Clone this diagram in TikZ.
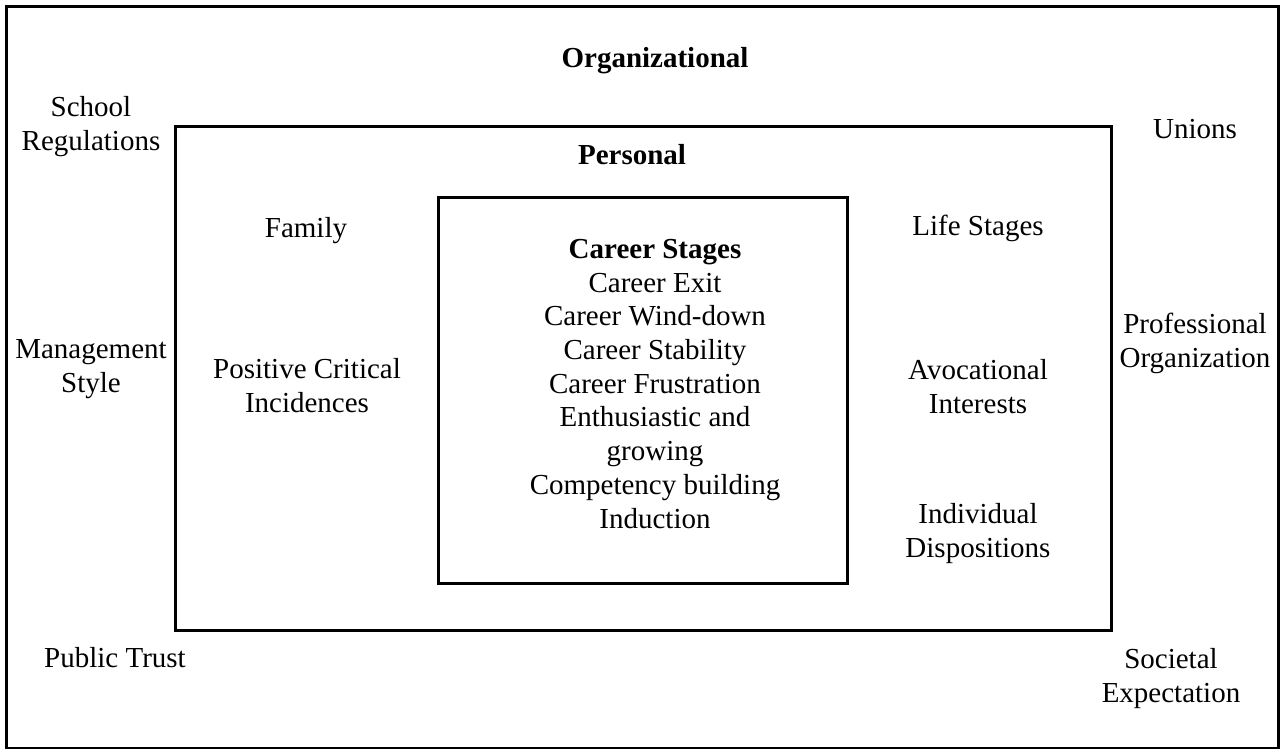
\documentclass[tikz,border=0pt]{standalone}
\usepackage{fontspec}
\setmainfont{Liberation Serif}
\begin{document}
\begin{tikzpicture}[x=0.5pt, y=-0.5pt,
    every node/.style={font=\fontsize{14.5}{16.85}\selectfont, align=center, anchor=base, inner sep=0pt},
    heading/.style={font=\fontsize{14.5}{16.85}\selectfont\bfseries},
    frame/.style={draw, line width=1.5pt}]
    \useasboundingbox (0,0) rectangle (1285,749);
    \clip (0,0) rectangle (1285,749);

    % Nested frames
    \draw[frame] (6,7) rectangle (1278,748);
    \draw[frame] (175,127) rectangle (1111,630);
    \draw[frame] (438,197) rectangle (847,583);

    % Organizational level (base = last line)
    \node[heading] (org) at (655,68) {Organizational};
    \node (school) at (91,150) {School\\Regulations};
    \node (unions) at (1195,139) {Unions};
    \node (mgmt) at (91,392) {Management\\Style};
    \node (prof) at (1195,367) {Professional\\Organization};
    \node (trust) at (115,667) {Public Trust};
    \node (society) at (1171,702) {Societal\\Expectation};

    % Personal level
    \node[heading] (pers) at (632,164) {Personal};
    \node (family) at (306,237) {Family};
    \node (life) at (978,235) {Life Stages};
    \node (incid) at (307,412) {Positive Critical\\Incidences};
    \node (avoc) at (978,413) {Avocational\\Interests};
    \node (disp) at (978,557) {Individual\\Dispositions};

    % Career stages
    \node (career) at (655,528) {\textbf{Career Stages}\\Career Exit\\Career Wind-down\\Career Stability\\Career Frustration\\Enthusiastic and\\growing\\Competency building\\Induction};
\end{tikzpicture}
\end{document}
